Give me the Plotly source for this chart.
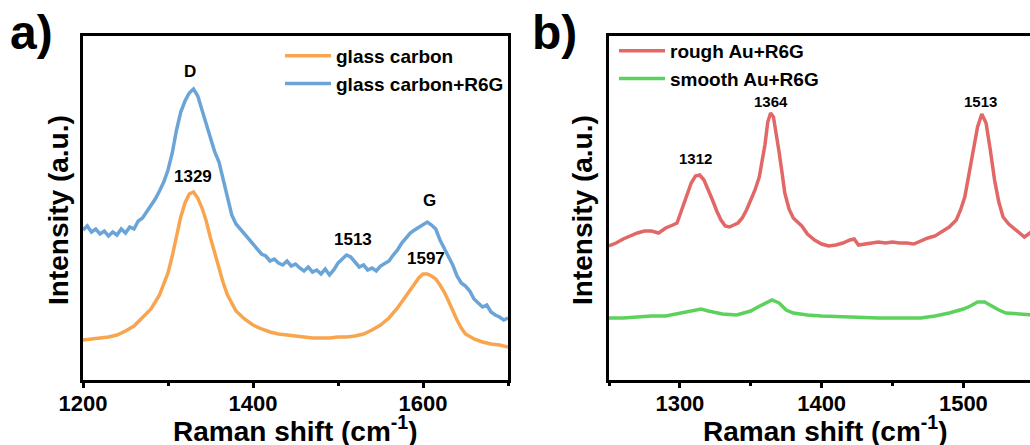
import plotly.graph_objects as go

# ---------------- data ----------------
# Panel a: glass carbon / glass carbon + R6G
gc_x = [1200, 1210, 1220, 1230, 1240, 1250, 1260, 1270, 1280, 1290, 1295, 1300, 1305, 1310, 1315,
        1320, 1325, 1330, 1335, 1340, 1345, 1350, 1355, 1360, 1365, 1370, 1375, 1380, 1390, 1400,
        1410, 1420, 1430, 1440, 1450, 1460, 1470, 1480, 1490, 1500, 1510, 1520, 1530, 1540, 1550,
        1560, 1570, 1580, 1590, 1595, 1600, 1605, 1610, 1615, 1620, 1625, 1630, 1635, 1640, 1645,
        1650, 1660, 1670, 1680, 1690, 1700]
gc_y = [40, 41, 42, 43, 45, 49, 54, 62, 71, 85, 95, 107, 124, 144, 163,
        177, 186, 188, 182, 172, 159, 142, 126, 111, 97, 85, 76, 69, 61, 55,
        51, 48, 46, 45, 44, 43, 42, 42, 42, 43, 43, 44, 46, 50, 55,
        62, 72, 84, 96, 102, 106, 106, 104, 101, 95, 88, 79, 69, 60, 52,
        46, 41, 38, 36, 35, 33]

gcr_x = [1200, 1205, 1210, 1215, 1220, 1225, 1230, 1235, 1240, 1245, 1250, 1255, 1260, 1265, 1270,
         1275, 1280, 1285, 1290, 1295, 1300, 1305, 1310, 1315, 1320, 1325, 1330, 1335, 1340, 1345,
         1350, 1355, 1360, 1365, 1370, 1375, 1380, 1385, 1390, 1395, 1400, 1405, 1410, 1415, 1420,
         1425, 1430, 1435, 1440, 1445, 1450, 1455, 1460, 1465, 1470, 1475, 1480, 1485, 1490, 1495,
         1500, 1505, 1510, 1515, 1520, 1525, 1530, 1535, 1540, 1545, 1550, 1555, 1560, 1565, 1570,
         1575, 1580, 1585, 1590, 1595, 1600, 1605, 1610, 1615, 1620, 1625, 1630, 1635, 1640, 1645,
         1650, 1655, 1660, 1665, 1670, 1675, 1680, 1685, 1690, 1695, 1700]
gcr_y = [150, 154, 148, 151, 146, 149, 144, 148, 145, 151, 147, 153, 151, 159, 162,
         168, 174, 181, 189, 198, 210, 227, 250, 268, 279, 287, 291, 284, 270, 256,
         244, 228, 218, 200, 181, 165, 156, 151, 146, 140, 136, 131, 126, 124, 119,
         121, 117, 115, 119, 114, 116, 112, 109, 113, 108, 110, 106, 111, 105, 110,
         117, 121, 125, 123, 118, 113, 115, 110, 112, 109, 114, 117, 119, 125, 130,
         137, 142, 147, 150, 153, 156, 158, 155, 151, 140, 132, 123, 115, 104, 97,
         94, 89, 81, 77, 73, 75, 68, 65, 63, 60, 62]

# Panel b: rough Au + R6G / smooth Au + R6G
rough_x = [1250, 1255, 1260, 1265, 1270, 1275, 1280, 1285, 1290, 1295, 1298, 1302, 1305, 1308, 1311,
           1314, 1317, 1320, 1323, 1326, 1329, 1332, 1335, 1338, 1341, 1344, 1347, 1350, 1353, 1356,
           1358, 1360, 1362, 1364, 1366, 1368, 1370, 1372, 1374, 1377, 1380, 1383, 1386, 1390, 1395,
           1400, 1405, 1410, 1415, 1420, 1423, 1426, 1430, 1435, 1440, 1445, 1450, 1455, 1460, 1465,
           1470, 1475, 1480, 1485, 1490, 1495, 1498, 1501, 1504, 1507, 1510, 1513, 1516, 1519, 1522,
           1525, 1528, 1532, 1536, 1540, 1543, 1547, 1550]
rough_y = [134, 137, 141, 144, 147, 149, 149, 147, 152, 155, 157, 173, 186, 197, 204,
           205, 200, 191, 180, 169, 160, 154, 153, 155, 157, 162, 170, 180, 190, 203,
           217, 235, 258, 267, 263, 247, 228, 208, 187, 171, 162, 158, 154, 146, 140,
           136, 134, 135, 137, 140, 141, 135, 136, 137, 138, 137, 138, 137, 137, 136,
           139, 142, 144, 148, 153, 160, 170, 183, 205, 230, 253, 266, 257, 230, 200,
           178, 163, 156, 151, 146, 143, 147, 150]

smooth_x = [1250, 1260, 1270, 1280, 1290, 1300, 1310, 1315, 1320, 1330, 1340, 1350, 1355, 1360, 1365,
            1370, 1375, 1380, 1390, 1400, 1420, 1440, 1460, 1470, 1480, 1490, 1500, 1505, 1510, 1515,
            1520, 1525, 1530, 1540, 1550]
smooth_y = [62, 62, 63, 64, 64, 67, 70, 71, 69, 66, 65, 69, 73, 77, 80,
            77, 70, 67, 65, 64, 63, 62, 62, 62, 64, 67, 71, 74, 78, 78,
            74, 70, 67, 66, 65]

ticks_a = [1200, 1400, 1600]
ticks_b = [1300, 1400, 1500]

peak_labels_a = [("D", 1326, 308), ("1329", 1329, 203), ("1513", 1518, 140),
                 ("1597", 1603, 122), ("G", 1608, 179)]
peak_labels_b = [("1312", 1311, 221), ("1364", 1364, 278), ("1513", 1512, 278)]

# ---------------- styling ----------------
FONT = "Liberation Sans, Arial, sans-serif"
C_ORANGE = "#F9A54F"
C_BLUE = "#6BA4D7"
C_RED = "#E26767"
C_GREEN = "#5CD25C"
LW = 3.5

W, H = 1030, 445
fig = go.Figure()

fig.add_trace(go.Scatter(x=gc_x, y=gc_y, mode="lines", name="glass carbon",
                         line=dict(color=C_ORANGE, width=LW), xaxis="x", yaxis="y", legend="legend"))
fig.add_trace(go.Scatter(x=gcr_x, y=gcr_y, mode="lines", name="glass carbon+R6G",
                         line=dict(color=C_BLUE, width=LW), xaxis="x", yaxis="y", legend="legend"))
fig.add_trace(go.Scatter(x=rough_x, y=rough_y, mode="lines", name="rough Au+R6G",
                         line=dict(color=C_RED, width=LW), xaxis="x2", yaxis="y2", legend="legend2"))
fig.add_trace(go.Scatter(x=smooth_x, y=smooth_y, mode="lines", name="smooth Au+R6G",
                         line=dict(color=C_GREEN, width=LW), xaxis="x2", yaxis="y2", legend="legend2"))

ydom = [1 - 380 / H, 1 - 36 / H]
tickfont = dict(family=FONT, size=22, color="black", weight="bold")
titlefont = dict(family=FONT, size=28, color="black", weight="bold")

common_x = dict(showline=True, linecolor="black", linewidth=3, mirror=True,
                ticks="outside", ticklen=5, tickwidth=3, tickcolor="black",
                ticklabelstandoff=-3,
                showgrid=False, zeroline=False, tickfont=tickfont, automargin=False)
common_y = dict(showline=True, linecolor="black", linewidth=3,
                showticklabels=False, ticks="", showgrid=False, zeroline=False,
                range=[0, 344], automargin=False)

legfont = dict(family=FONT, size=19, color="black", weight="bold")
fig.update_layout(
    width=W, height=H,
    margin=dict(l=0, r=0, t=0, b=0, autoexpand=False),
    paper_bgcolor="white", plot_bgcolor="white",
    showlegend=True,
    xaxis=dict(domain=[83 / W, 508 / W], range=[1200, 1700], tickvals=ticks_a,
               minor=dict(dtick=100, tick0=1200, ticks="outside", ticklen=3, tickwidth=3, tickcolor="black"),
               anchor="y", **common_x),
    yaxis=dict(domain=ydom, anchor="x", mirror=True, **common_y),
    xaxis2=dict(domain=[609 / W, 1.0], range=[1250, 1547], tickvals=ticks_b,
                minor=dict(dtick=50, tick0=1250, ticks="outside", ticklen=3, tickwidth=3, tickcolor="black"),
                anchor="y2", **common_x),
    yaxis2=dict(domain=ydom, anchor="x2", mirror=False, **common_y),
    legend=dict(x=280 / W, y=1 - 37 / H, xanchor="left", yanchor="top",
                bgcolor="rgba(0,0,0,0)", borderwidth=0, tracegroupgap=0, itemwidth=46,
                font=legfont),
    legend2=dict(x=614 / W, y=1 - 32 / H, xanchor="left", yanchor="top",
                 bgcolor="rgba(0,0,0,0)", borderwidth=0, tracegroupgap=0, itemwidth=46,
                 font=legfont),
)

annots = []
for txt, xv, yv in peak_labels_a:
    annots.append(dict(x=xv, y=yv, xref="x", yref="y", text=txt, showarrow=False,
                       font=dict(family=FONT, size=17, color="black", weight="bold")))
for txt, xv, yv in peak_labels_b:
    annots.append(dict(x=xv, y=yv, xref="x2", yref="y2", text=txt, showarrow=False,
                       font=dict(family=FONT, size=15, color="black", weight="bold")))
# panel letters
for txt, px in (("a)", 8), ("b)", 530)):
    annots.append(dict(x=px / W, y=1 - 4 / H, xref="paper", yref="paper", text=txt, showarrow=False,
                       xanchor="left", yanchor="top",
                       font=dict(family=FONT, size=48, color="black", weight="bold")))
# axis titles
annots.append(dict(x=296 / W, y=1 - 429 / H, xref="paper", yref="paper",
                   text="Raman shift (cm<sup>-1</sup>)", showarrow=False,
                   xanchor="center", yanchor="middle", font=titlefont))
annots.append(dict(x=825 / W, y=1 - 429 / H, xref="paper", yref="paper",
                   text="Raman shift (cm<sup>-1</sup>)", showarrow=False,
                   xanchor="center", yanchor="middle", font=titlefont))
for px in (58, 582):
    annots.append(dict(x=px / W, y=1 - 210 / H, xref="paper", yref="paper",
                       text="Intensity (a.u.)", showarrow=False, textangle=-90,
                       xanchor="center", yanchor="middle", font=titlefont))
fig.update_layout(annotations=annots)

fig.write_html("out.html")
